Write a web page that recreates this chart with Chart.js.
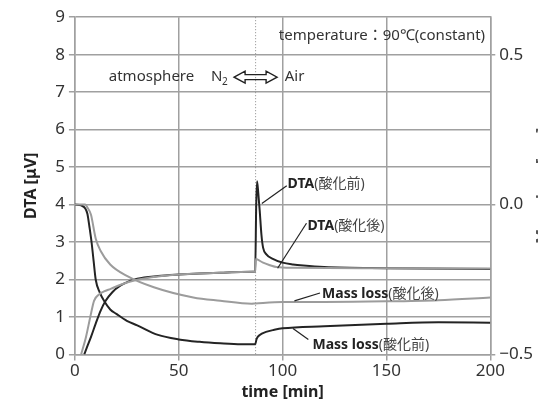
<!DOCTYPE html>
<html>
<head>
<meta charset="utf-8">
<script src="https://cdn.jsdelivr.net/npm/chart.js@4"></script>
<style>
  html, body { margin: 0; background: #fff; overflow: hidden; }
  #wrap { width: 538px; height: 406px; padding-top: 3px; }
</style>
</head>
<body>
<div id="wrap"><canvas id="chart"></canvas></div>
<script>
// DTA before oxidation (black) - time [min], DTA [uV]
const dtaPreTime = [4.5, 6, 7.7, 10, 12.4, 14.8, 18, 22, 26, 30, 40, 50, 60, 70, 80, 86.8, 87.3, 87.7, 88.3, 89, 89.8, 90.6, 92.2, 95.3, 100, 105, 110, 120, 150, 200];
const dtaPreVal  = [0, 0.22, 0.46, 0.82, 1.17, 1.43, 1.66, 1.84, 1.95, 2.02, 2.09, 2.13, 2.16, 2.18, 2.2, 2.21, 4.0, 4.62, 4.3, 3.82, 3.2, 2.85, 2.67, 2.55, 2.45, 2.4, 2.37, 2.33, 2.3, 2.28];

// DTA after oxidation (gray)
const dtaPostTime = [3, 5.3, 7.7, 9.2, 11.6, 14, 17.2, 22, 30, 40, 50, 60, 70, 80, 86.8, 87.2, 88, 90.6, 94, 97, 105, 150, 200];
const dtaPostVal  = [0, 0.46, 1.08, 1.43, 1.6, 1.68, 1.75, 1.86, 1.99, 2.08, 2.13, 2.16, 2.18, 2.2, 2.21, 2.55, 2.53, 2.45, 2.38, 2.33, 2.31, 2.3, 2.29];

// Mass loss before oxidation (black) - mg, right axis
const massPreTime = [0, 3, 5, 6, 7, 8, 9, 10, 12, 14, 17, 20, 25, 30, 40, 50, 60, 70, 80, 86.8, 87.5, 89, 92, 96, 100, 120, 150, 175, 200];
const massPreVal  = [0, -0.003, -0.013, -0.031, -0.075, -0.125, -0.188, -0.25, -0.294, -0.321, -0.35, -0.365, -0.388, -0.403, -0.435, -0.45, -0.458, -0.463, -0.466, -0.466, -0.448, -0.435, -0.425, -0.418, -0.413, -0.406, -0.398, -0.393, -0.394];

// Mass loss after oxidation (gray)
const massPostTime = [0, 5, 6, 7.7, 10, 12.4, 17, 25, 38, 57, 70, 85, 87, 100, 120, 150, 175, 200];
const massPostVal  = [0, 0, -0.01, -0.033, -0.113, -0.155, -0.2, -0.238, -0.276, -0.31, -0.321, -0.331, -0.33, -0.325, -0.325, -0.323, -0.319, -0.31];

const xTicks = [0, 50, 100, 150, 200];
const massTicks = [-0.5, 0, 0.5];
const switchTime = 87;

// callouts, positioned in time / DTA units
const callouts = [
  { bold: 'DTA', rest: '(酸化前)', at: [102.4, 4.56], from: [102, 4.5], to: [90, 4.03] },
  { bold: 'DTA', rest: '(酸化後)', at: [112, 3.42], from: [111.5, 3.5], to: [97.6, 2.3] },
  { bold: 'Mass loss', rest: '(酸化後)', at: [119, 1.62], from: [118, 1.64], to: [105.7, 1.43] },
  { bold: 'Mass loss', rest: '(酸化前)', at: [114.4, 0.24], from: [112.4, 0.4], to: [105, 0.69] }
];

const pts = (t, v) => t.map((x, i) => ({ x, y: v[i] }));
const FONT = '"Noto Sans", "Noto Sans CJK JP", sans-serif';
Chart.defaults.font.family = FONT;

const overlay = {
  id: 'overlay',
  beforeDatasetsDraw(chart) {
    const { ctx, chartArea: a, scales: { x } } = chart;
    const sx = x.getPixelForValue(switchTime);
    ctx.save();
    ctx.strokeStyle = '#8a8a8a';
    ctx.lineWidth = 1;
    ctx.setLineDash([1, 2]);
    ctx.beginPath();
    ctx.moveTo(sx, a.top);
    ctx.lineTo(sx, a.bottom);
    ctx.stroke();
    ctx.restore();
  },
  afterDatasetsDraw(chart) {
    const { ctx, chartArea: a, scales: { x, y } } = chart;
    const px = v => x.getPixelForValue(v);
    const py = v => y.getPixelForValue(v);
    ctx.save();

    // header texts
    ctx.fillStyle = '#333';
    ctx.textBaseline = 'middle';
    ctx.font = '15px ' + FONT;
    ctx.textAlign = 'right';
    ctx.fillText('temperature：90℃(constant)', px(197.5), py(8.51));
    ctx.textAlign = 'left';
    ctx.fillText('atmosphere', px(16.3), py(7.4));
    ctx.fillText('N', px(65.5), py(7.4));
    ctx.font = '10px ' + FONT;
    ctx.fillText('2', px(65.5) + 11, py(7.4) + 5);
    ctx.font = '15px ' + FONT;
    ctx.fillText('Air', px(101), py(7.4));

    // hollow double arrow N2 <=> Air
    const ax = px(switchTime), ay = py(7.4);
    const L = 21.5, h = 11, H = 6, s = 2.5;
    ctx.beginPath();
    ctx.moveTo(ax - L, ay);
    ctx.lineTo(ax - L + h, ay - H);
    ctx.lineTo(ax - L + h, ay - s);
    ctx.lineTo(ax + L - h, ay - s);
    ctx.lineTo(ax + L - h, ay - H);
    ctx.lineTo(ax + L, ay);
    ctx.lineTo(ax + L - h, ay + H);
    ctx.lineTo(ax + L - h, ay + s);
    ctx.lineTo(ax - L + h, ay + s);
    ctx.lineTo(ax - L + h, ay + H);
    ctx.closePath();
    ctx.strokeStyle = '#222';
    ctx.lineWidth = 1.4;
    ctx.stroke();

    // callouts with leader lines
    callouts.forEach(c => {
      ctx.strokeStyle = '#222';
      ctx.lineWidth = 1.2;
      ctx.beginPath();
      ctx.moveTo(px(c.from[0]), py(c.from[1]));
      ctx.lineTo(px(c.to[0]), py(c.to[1]));
      ctx.stroke();
      ctx.fillStyle = '#222';
      ctx.font = 'bold 14px ' + FONT;
      const tx = px(c.at[0]), ty = py(c.at[1]);
      ctx.fillText(c.bold, tx, ty);
      const w = ctx.measureText(c.bold).width;
      ctx.font = '14px ' + FONT;
      ctx.fillStyle = '#444';
      ctx.fillText(c.rest, tx + w, ty);
    });

    // right axis title, mostly beyond the picture edge
    ctx.translate(a.right + 53, (a.top + a.bottom) / 2);
    ctx.rotate(-Math.PI / 2);
    ctx.textAlign = 'center';
    ctx.fillStyle = '#555';
    ctx.font = 'bold 16px ' + FONT;
    ctx.fillText('Mass loss [mg]', 0, 0);
    ctx.restore();
  }
};

const GRID = '#a0a0a0';
const BLACK = '#242424';
const GRAY = '#9c9c9c';

new Chart(document.getElementById('chart'), {
  type: 'line',
  data: {
    datasets: [
      { label: 'DTA(酸化後)', data: pts(dtaPostTime, dtaPostVal), borderColor: GRAY, yAxisID: 'y' },
      { label: 'Mass loss(酸化後)', data: pts(massPostTime, massPostVal), borderColor: GRAY, yAxisID: 'y2' },
      { label: 'Mass loss(酸化前)', data: pts(massPreTime, massPreVal), borderColor: BLACK, yAxisID: 'y2' },
      { label: 'DTA(酸化前)', data: pts(dtaPreTime, dtaPreVal), borderColor: BLACK, yAxisID: 'y' }
    ]
  },
  options: {
    responsive: true,
    maintainAspectRatio: false,
    animation: false,
    parsing: false,
    layout: { padding: { top: 10, left: 22, right: 1, bottom: 7 } },
    elements: {
      point: { radius: 0 },
      line: { borderWidth: 2, cubicInterpolationMode: 'monotone', fill: false }
    },
    plugins: { legend: { display: false }, tooltip: { enabled: false } },
    scales: {
      x: {
        type: 'linear', min: 0, max: 200,
        afterBuildTicks: s => { s.ticks = xTicks.map(v => ({ value: v })); },
        ticks: { color: '#333', font: { size: 17 }, padding: 1, maxRotation: 0 },
        grid: { color: GRID, lineWidth: 1.5, tickLength: 6 },
        border: { color: GRID, width: 1.5 },
        title: { display: true, text: 'time [min]', color: '#222', font: { size: 16, weight: 'bold' }, padding: { top: 0, bottom: 0 } }
      },
      y: {
        min: 0, max: 9,
        ticks: { stepSize: 1, color: '#333', font: { size: 17 }, padding: 4 },
        grid: { color: GRID, lineWidth: 1.5, tickLength: 6 },
        border: { color: GRID, width: 1.5 },
        title: { display: true, text: 'DTA [μV]', color: '#222', font: { size: 16, weight: 'bold' }, padding: { top: 0, bottom: 10 } }
      },
      y2: {
        position: 'right', min: -0.5, max: 0.625,
        afterBuildTicks: s => { s.ticks = massTicks.map(v => ({ value: v })); },
        ticks: { color: '#333', font: { size: 17 }, padding: 4, callback: v => v === 0 ? '0.0' : v.toFixed(1).replace('-', '−') },
        grid: { drawOnChartArea: false, color: GRID, lineWidth: 1.5, tickLength: 5 },
        border: { color: GRID, width: 1.5 }
      }
    }
  },
  plugins: [overlay]
});
</script>
</body>
</html>
